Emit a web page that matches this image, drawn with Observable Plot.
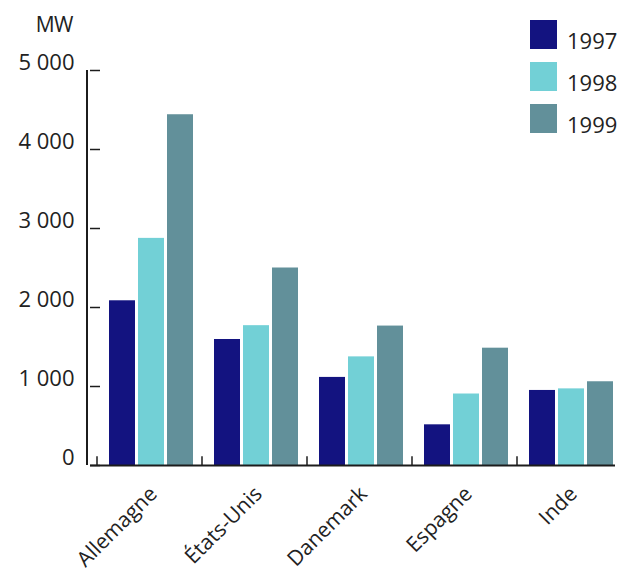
<!DOCTYPE html>
<html><head><meta charset="utf-8">
<script src="https://cdn.jsdelivr.net/npm/d3@7"></script>
<script src="https://cdn.jsdelivr.net/npm/@observablehq/plot@0.6"></script>
<style>
body{margin:0;background:#fff;font-family:"Open Sans",sans-serif;}
#wrap{position:relative;width:620px;height:572px;}
#unit{position:absolute;left:0;width:73px;top:14px;text-align:right;font-size:21px;line-height:21px;color:#222;letter-spacing:-0.5px;}
.leg{position:absolute;left:530px;height:30px;}
.leg .sw{position:absolute;left:0;top:0;width:27px;height:29px;}
.leg .lb{position:absolute;left:37px;font-size:22px;line-height:22px;color:#222;}
</style></head><body><div id="wrap"></div>
<script>
const countries = ["Allemagne", "États-Unis", "Danemark", "Espagne", "Inde"];
const years = ["1997", "1998", "1999"];
const v1997 = [2085, 1595, 1115, 515, 950];
const v1998 = [2875, 1770, 1375, 905, 970];
const v1999 = [4440, 2500, 1765, 1485, 1060];
const yTicks = [0, 1000, 2000, 3000, 4000, 5000];
const colors = ["#131380", "#72d0d6", "#62909a"];
const unit = "MW";

const series = [v1997, v1998, v1999];
const data = countries.flatMap((c, i) => years.map((y, j) => ({country: c, year: y, value: series[j][i]})));
const fmt = d3.formatLocale({thousands: " ", grouping: [3], decimal: ","}).format(",");
const ink = "#1c1c1c";

const chart = Plot.plot({
  width: 620, height: 572,
  marginTop: 70, marginBottom: 107, marginLeft: 88, marginRight: 3,
  style: {fontFamily: '"Open Sans", sans-serif', fontSize: "20px", color: "#222", background: "#fff"},
  fx: {domain: countries, padding: 0, axis: null},
  x: {domain: years, paddingInner: 0.09, paddingOuter: 0, insetLeft: 18.5, insetRight: 1.1, axis: null},
  y: {domain: [0, 5000], axis: null},
  color: {domain: years, range: colors},
  marks: [
    Plot.barY(data, {fx: "country", x: "year", y: "value", fill: "year"}),
    Plot.ruleY([0], {stroke: ink, strokeWidth: 2}),
    Plot.ruleX([countries[0]], {fx: d => d, x: () => years[0], y1: 0, y2: 5000, dx: -35.5, stroke: ink, strokeWidth: 2}),
    Plot.ruleX(countries, {fx: d => d, x: () => years[0], y1: 0, y2: 110, dx: -25.5, stroke: ink, strokeWidth: 1.5}),
    Plot.axisY({ticks: yTicks, tickSize: -10, text: null, label: null, strokeWidth: 1.5, stroke: ink}),
    Plot.axisY({ticks: yTicks, tickSize: 0, tickPadding: 16, tickFormat: fmt, label: null, fontSize: 22, letterSpacing: "1px", dy: -8, fill: "#222"}),
    Plot.text(countries, {fx: d => d, x: () => years[1], y: () => 0, text: d => d, rotate: -45, textAnchor: "end", dx: 2, dy: 25, fontSize: 21, fill: "#222"})
  ]
});

const wrap = document.getElementById("wrap");
wrap.appendChild(chart);
const u = document.createElement("div");
u.id = "unit"; u.textContent = unit; wrap.appendChild(u);
const legTops = [20, 62, 104];
years.forEach((y, j) => {
  const d = document.createElement("div");
  d.className = "leg"; d.style.top = legTops[j] + "px";
  d.innerHTML = `<div class="sw" style="background:${colors[j]}"></div><div class="lb" style="top:9px">${y}</div>`;
  wrap.appendChild(d);
});
</script></body></html>
